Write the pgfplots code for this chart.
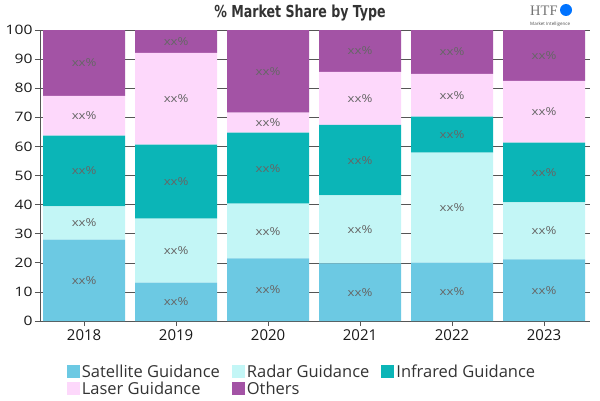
\documentclass[border=0pt]{standalone}
\usepackage{pgfplots}
\pgfplotsset{compat=1.18}
\usepackage{fontspec}
\setmainfont{Open Sans}
\newfontfamily\widefont[FakeStretch=1.2]{Open Sans}
\newfontfamily\titlefont[FakeStretch=0.85]{DejaVu Sans Condensed}
\newfontfamily\logofont{Liberation Serif}
\definecolor{sat}{HTML}{6CC9E3}
\definecolor{rad}{HTML}{C3F6F6}
\definecolor{inf}{HTML}{0BB5B7}
\definecolor{las}{HTML}{FDD8FB}
\definecolor{oth}{HTML}{A353A5}
\definecolor{axisgray}{HTML}{555555}
\begin{document}
\begin{tikzpicture}[x=1pt,y=1pt]
\useasboundingbox (0,0) rectangle (600,400);
\node[font=\titlefont\bfseries\fontsize{16.5}{18}\selectfont, text=black!80] at (300,387) {\% Market Share by Type};
\node[font=\logofont\fontsize{14.5}{16}\selectfont, text=black!55, anchor=west, inner sep=0] at (530,389) {HTF};
\fill[blue!55!cyan] (566,390) circle (6);
\node[font=\fontsize{4.5}{5}\selectfont, text=black!70, anchor=west, inner sep=0] at (530,376) {Market Intelligence};
\begin{axis}[
  at={(40pt,79pt)}, anchor=south west,
  scale only axis, width=550pt, height=291pt,
  ybar stacked, bar width=82pt,
  xmin=-0.48, xmax=5.5, ymin=0, ymax=100,
  xtick={0,1,2,3,4,5}, xticklabels={2018,2019,2020,2021,2022,2023},
  ytick={0,10,...,100},
  axis x line*=bottom, axis y line*=left,
  axis line style={draw=axisgray, line width=0.8pt},
  x axis line style={-}, y axis line style={-},
  xtick style={draw=axisgray, line width=0.8pt},
  ytick style={draw=axisgray, line width=0.8pt},
  tick align=outside, major tick length=5pt,
  ymajorgrids, grid style={draw=axisgray, line width=0.6pt},
  xticklabel style={font=\fontsize{15}{16}\selectfont, text=black!90},
  yticklabel style={font=\widefont\fontsize{13}{14}\selectfont, text=black!90, xshift=1pt},
  /pgf/number format/assume math mode=true,
  nodes near coords={xx\%},
  every node near coord/.append style={font=\widefont\fontsize{11}{12}\selectfont, text=black!60, anchor=center},
  legend columns=3,
  legend style={at={(0.043,-0.135)}, anchor=north west, draw=none, fill=none,
    font=\fontsize{16.5}{18}\selectfont, text=black!80,
    /tikz/every even column/.append style={column sep=10pt},
    /tikz/every odd column/.append style={column sep=0pt},
    row sep=-1pt},
  legend image code/.code={\fill[#1] (0pt,-6.5pt) rectangle (13pt,6.5pt);},
  legend cell align=left,
]
\addplot[fill=sat, draw=none] table[x=x,y=v] {
x v
0 28.0
1 13.2
2 21.5
3 19.8
4 20.1
5 21.2
};
\addplot[fill=rad, draw=none] table[x=x,y=v] {
x v
0 11.4
1 22.0
2 18.8
3 23.4
4 37.8
5 19.6
};
\addplot[fill=inf, draw=none] table[x=x,y=v] {
x v
0 24.3
1 25.4
2 24.4
3 24.2
4 12.3
5 20.5
};
\addplot[fill=las, draw=none] table[x=x,y=v] {
x v
0 13.7
1 31.5
2 6.9
3 18.2
4 14.7
5 21.2
};
\addplot[fill=oth, draw=none] table[x=x,y=v] {
x v
0 22.6
1 7.9
2 28.4
3 14.4
4 15.1
5 17.5
};
\legend{Satellite Guidance, Radar Guidance, Infrared Guidance, Laser Guidance, Others}
\end{axis}
\end{tikzpicture}
\end{document}
